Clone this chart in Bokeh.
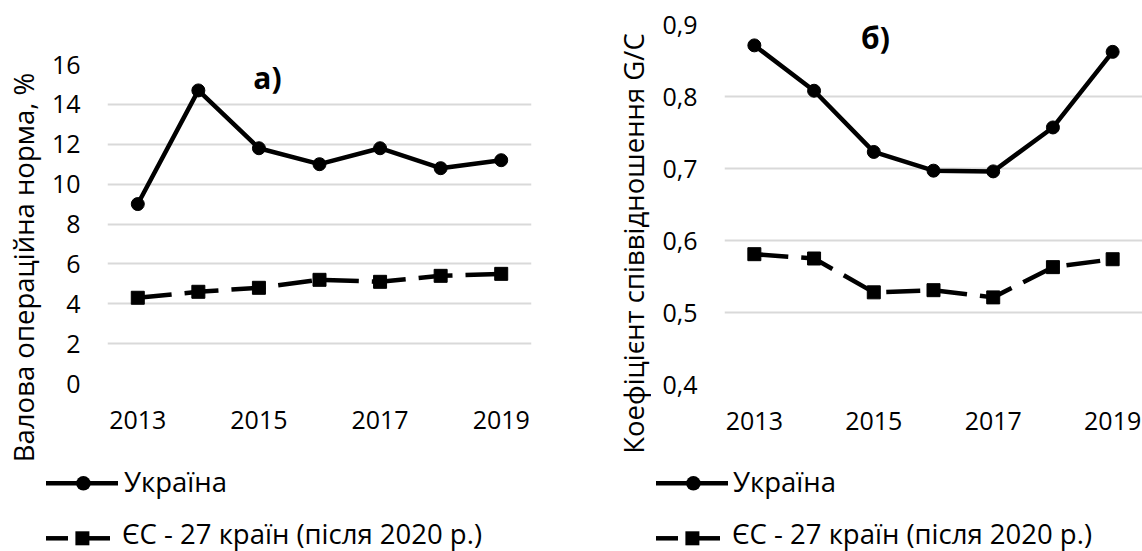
from math import pi
from bokeh.plotting import figure
from bokeh.layouts import row, column
from bokeh.models import (Range1d, FixedTicker, Label, Div,
                          CustomJSTickFormatter)
from bokeh.embed import file_html
from bokeh.resources import INLINE

# ---- data ----
years = [2013, 2014, 2015, 2016, 2017, 2018, 2019]
ua_gor = [9.0, 14.7, 11.8, 11.0, 11.8, 10.8, 11.2]
eu_gor = [4.3, 4.6, 4.8, 5.2, 5.1, 5.4, 5.5]
ua_gc = [0.871, 0.808, 0.723, 0.697, 0.696, 0.757, 0.862]
eu_gc = [0.581, 0.575, 0.528, 0.531, 0.521, 0.563, 0.574]
x_ticks = [2013, 2015, 2017, 2019]
left_ticks = [0, 2, 4, 6, 8, 10, 12, 14, 16]
right_ticks = [0.4, 0.5, 0.6, 0.7, 0.8, 0.9]
series_names = ["Україна", "ЄС - 27 країн (після 2020 р.)"]
left_ylabel = "Валова операційна норма, %"
right_ylabel = "Коефіцієнт співвідношення G/C"
left_tag = "а)"
right_tag = "б)"

FONT = "Open Sans"
FS = "25px"        # tick labels
FS_TXT = "27.5px"  # axis titles and legend
GRID = "#d9d9d9"
LW = 4.5
DASH = "34 13"
H = 551
TOP_H = 463
LEG_H = H - TOP_H


def ylabel_fig(width, text, cx, cy):
    q = figure(width=width, height=H, output_backend="svg",
               toolbar_location=None, x_axis_type=None, y_axis_type=None,
               x_range=Range1d(0, 1), y_range=Range1d(0, 1),
               min_border_left=0, min_border_right=0, min_border_top=0,
               min_border_bottom=0)
    q.outline_line_color = None
    q.xgrid.visible = False
    q.ygrid.visible = False
    q.background_fill_color = "white"
    q.border_fill_color = "white"
    q.add_layout(Label(x=cx, y=H - cy, x_units="screen", y_units="screen",
                       text=text, angle=pi / 2, text_align="center",
                       text_baseline="middle", text_font=FONT,
                       text_font_size=FS_TXT, text_color="black"))
    return q


def panel(ua, eu, yr, yticks, tag, width, mb, fmt=None, tag_pos=(0, 0)):
    l, t, r, b = mb
    p = figure(width=width, height=TOP_H, output_backend="svg",
               toolbar_location=None, x_range=Range1d(2012.5, 2019.5),
               y_range=Range1d(*yr), min_border_left=l, min_border_top=t,
               min_border_right=r, min_border_bottom=b)
    p.outline_line_color = None
    p.background_fill_color = "white"
    p.border_fill_color = "white"
    p.xgrid.visible = False
    p.ygrid.grid_line_color = GRID
    p.ygrid.grid_line_width = 2

    p.xaxis.ticker = FixedTicker(ticks=x_ticks)
    p.yaxis.ticker = FixedTicker(ticks=yticks)
    if fmt is not None:
        p.yaxis.formatter = fmt
    for ax in (p.xaxis, p.yaxis):
        ax.axis_line_color = None
        ax.major_tick_line_color = None
        ax.minor_tick_line_color = None
        ax.major_tick_out = 0
        ax.major_tick_in = 0
        ax.major_label_text_font = FONT
        ax.major_label_text_font_size = FS
        ax.major_label_text_color = "black"
    p.yaxis.major_label_standoff = 27
    p.xaxis.major_label_standoff = 27

    p.line(years, ua, line_color="black", line_width=LW, line_join="round")
    p.scatter(years, ua, marker="circle", size=13, color="black")
    p.line(years, eu, line_color="black", line_width=LW, line_dash=DASH)
    p.scatter(years, eu, marker="square", size=13, color="black")

    p.add_layout(Label(x=tag_pos[0], y=tag_pos[1], x_units="screen", y_units="screen",
                       text=tag, text_align="center", text_baseline="middle",
                       text_font=FONT, text_font_size="30px",
                       text_font_style="bold", text_color="black"))
    return p


def legend_div(width, x0, label_x1, label_x2):
    # legend key drawn in a small svg; x0 = left end of the key line
    y1, y2 = 20.3, 75.3
    tstyle = f"font-family:'{FONT}', sans-serif;font-size:{FS_TXT};fill:black"
    html = (
        f'<svg width="{width}" height="{LEG_H}" xmlns="http://www.w3.org/2000/svg" '
        f'style="position:absolute;left:0;top:0;overflow:visible">'
        f'<line x1="{x0}" y1="{y1}" x2="{x0 + 72}" y2="{y1}" stroke="black" stroke-width="{LW}"/>'
        f'<circle cx="{x0 + 37.4}" cy="{y1}" r="7.3" fill="black"/>'
        f'<line x1="{x0}" y1="{y2}" x2="{x0 + 22}" y2="{y2}" stroke="black" stroke-width="{LW}"/>'
        f'<rect x="{x0 + 29.4}" y="{y2 - 7}" width="14" height="14" fill="black"/>'
        f'<line x1="{x0 + 36}" y1="{y2}" x2="{x0 + 64}" y2="{y2}" stroke="black" stroke-width="{LW}"/>'
        f'<text x="{label_x1}" y="29" style="{tstyle}">{series_names[0]}</text>'
        f'<text x="{label_x2}" y="80.5" style="{tstyle}">{series_names[1]}</text>'
        f'</svg>'
    )
    return Div(text=html, width=width, height=LEG_H, margin=0,
               styles={"position": "relative", "overflow": "visible"})


# left block: label strip 0..46, chart 46..571 (frame 107..531 x 64..383)
lab_l = ylabel_fig(46, left_ylabel, 23, 267)
main_l = panel(ua_gor, eu_gor, (0, 16), left_ticks, left_tag, 525,
               (61, 64, 40, TOP_H - 383), tag_pos=(160, 306))
leg_l = legend_div(525, 0, 78, 76)

# right block: label strip 571..651, chart 651..1142 (frame 724..1142 x 24..384)
lab_r = ylabel_fig(80, right_ylabel, 62, 243)
main_r = panel(ua_gc, eu_gc, (0.4, 0.9), right_ticks, right_tag, 491,
               (73, 24, 0, TOP_H - 384),
               fmt=CustomJSTickFormatter(code="return tick.toFixed(1).replace('.', ',');"),
               tag_pos=(151, 347))
leg_r = legend_div(491, 5, 82, 81)

layout = row(lab_l, column(main_l, leg_l), lab_r, column(main_r, leg_r))
open("out.html", "w").write(file_html(layout, INLINE))
